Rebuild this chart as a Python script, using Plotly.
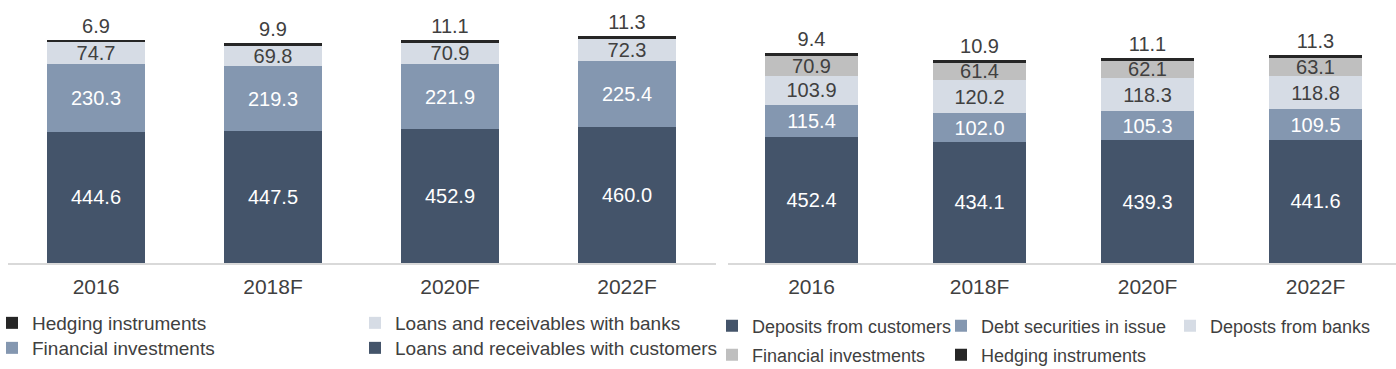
import plotly.graph_objects as go

# ---- data ----
years = ["2016", "2018F", "2020F", "2022F"]

# left chart (assets)
loans_customers = [444.6, 447.5, 452.9, 460.0]
fin_invest_l = [230.3, 219.3, 221.9, 225.4]
loans_banks = [74.7, 69.8, 70.9, 72.3]
hedging_l = [6.9, 9.9, 11.1, 11.3]

# right chart (liabilities)
dep_customers = [452.4, 434.1, 439.3, 441.6]
debt_sec = [115.4, 102.0, 105.3, 109.5]
dep_banks = [103.9, 120.2, 118.3, 118.8]
fin_invest_r = [70.9, 61.4, 62.1, 63.1]
hedging_r = [9.4, 10.9, 11.1, 11.3]

NAVY = "#44546A"
MID = "#8497B0"
LIGHT = "#D6DCE5"
GREY = "#BFBFBF"
BLACK = "#262626"
TXT = "#404040"
FONT = "Liberation Sans, Arial, sans-serif"

fig = go.Figure()


def add_bar(y, name, color, txtcolor, xa, ya, legend, outside=False):
    fig.add_trace(go.Bar(
        x=years, y=y, name=name, marker=dict(color=color, line=dict(width=0)),
        texttemplate="%{y:.1f}",
        textposition="outside" if outside else "inside",
        insidetextanchor="middle",
        constraintext="none",
        cliponaxis=False,
        textfont=dict(color=txtcolor, size=20, family=FONT),
        xaxis=xa, yaxis=ya, legend=legend,
    ))


# left stack (bottom -> top)
add_bar(loans_customers, "Loans and receivables with customers", NAVY, "white", "x", "y", "legend2")
add_bar(fin_invest_l, "Financial investments", MID, "white", "x", "y", "legend2")
add_bar(loans_banks, "Loans and receivables with banks", LIGHT, TXT, "x", "y", "legend")
add_bar(hedging_l, "Hedging instruments", BLACK, TXT, "x", "y", "legend", outside=True)

# right stack (bottom -> top)
add_bar(dep_customers, "Deposits from customers", NAVY, "white", "x2", "y2", "legend3")
add_bar(debt_sec, "Debt securities in issue", MID, "white", "x2", "y2", "legend3")
add_bar(dep_banks, "Deposts from banks", LIGHT, TXT, "x2", "y2", "legend3")
add_bar(fin_invest_r, "Financial investments", GREY, TXT, "x2", "y2", "legend4")
add_bar(hedging_r, "Hedging instruments", BLACK, TXT, "x2", "y2", "legend4", outside=True)

W, H = 1396, 369
PLOT_H = 263.0

xcommon = dict(type="category", showline=True, linecolor="#D9D9D9", linewidth=2,
               ticks="", showgrid=False, zeroline=False,
               tickfont=dict(size=21, color=TXT, family=FONT), ticklabelstandoff=4,
               fixedrange=True)


def ly(py):
    return -(py - PLOT_H) / PLOT_H


legfont_l = dict(size=19, color=TXT, family=FONT)
legfont_r = dict(size=18, color=TXT, family=FONT)
fig.update_layout(
    width=W, height=H,
    margin=dict(l=0, r=0, t=0, b=H - PLOT_H, pad=0, autoexpand=False),
    paper_bgcolor="white", plot_bgcolor="white",
    barmode="stack", bargap=0.446,
    font=dict(family=FONT, color=TXT),
    xaxis=dict(domain=[7.5 / W, 715.5 / W], range=[-0.5, 3.5], anchor="y", **xcommon),
    yaxis=dict(domain=[0, 1], range=[0, 891.5], visible=False, fixedrange=True),
    xaxis2=dict(domain=[727.5 / W, 1.0], range=[-0.5, 3.479], anchor="y2", **xcommon),
    yaxis2=dict(domain=[0, 1], range=[0, 942.6], visible=False, anchor="x2", fixedrange=True),
    legend=dict(orientation="h", x=-8 / W, xanchor="left", y=ly(323), yanchor="middle",
                entrywidth=318, traceorder="reversed", font=legfont_l, bgcolor="rgba(0,0,0,0)"),
    legend2=dict(orientation="h", x=-8 / W, xanchor="left", y=ly(348), yanchor="middle",
                 entrywidth=318, traceorder="reversed", font=legfont_l, bgcolor="rgba(0,0,0,0)"),
    legend3=dict(orientation="h", x=712 / W, xanchor="left", y=ly(326), yanchor="middle",
                 entrywidth=184, traceorder="normal", font=legfont_r, bgcolor="rgba(0,0,0,0)"),
    legend4=dict(orientation="h", x=712 / W, xanchor="left", y=ly(355), yanchor="middle",
                 entrywidth=184, traceorder="normal", font=legfont_r, bgcolor="rgba(0,0,0,0)"),
    showlegend=True,
)

fig.write_html("out.html")
